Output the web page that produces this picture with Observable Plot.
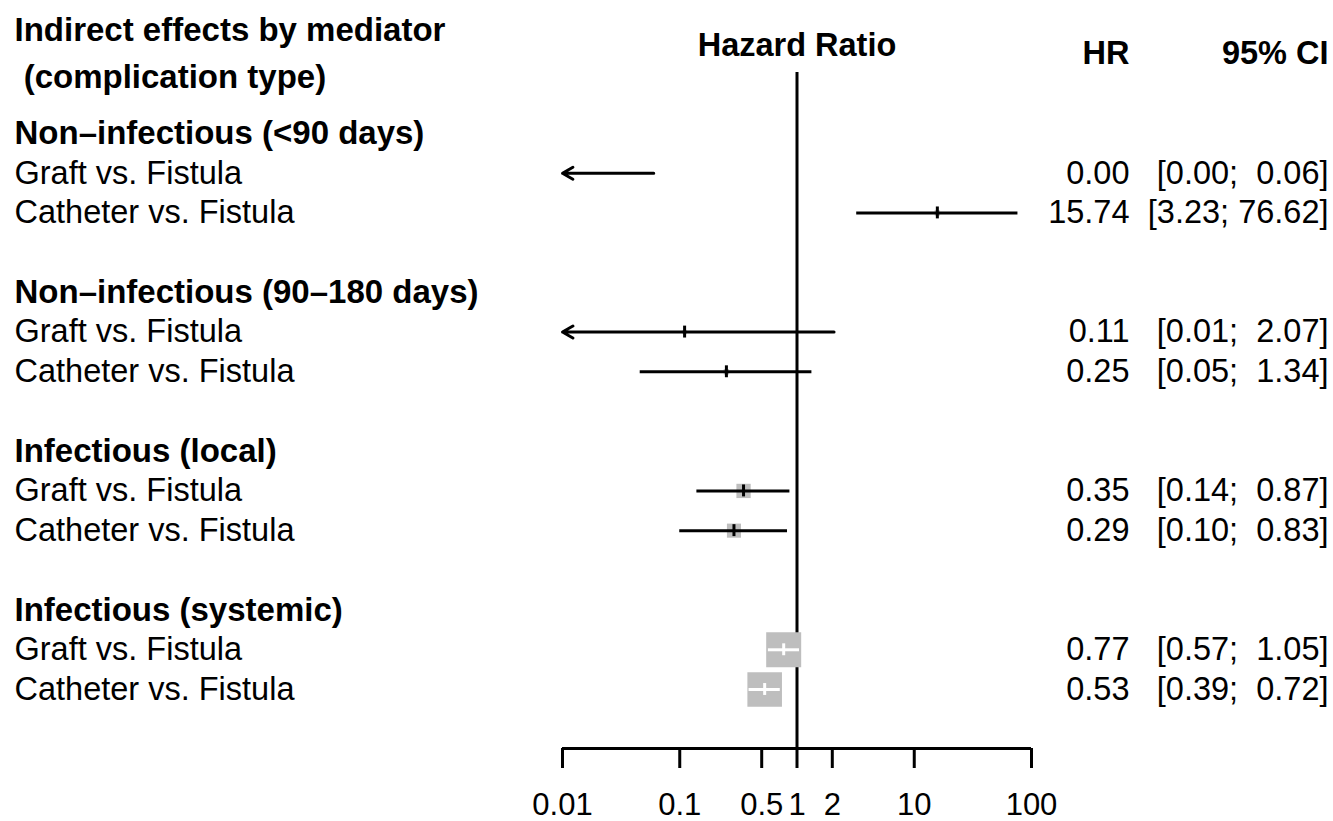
<!DOCTYPE html>
<html>
<head>
<meta charset="utf-8">
<script src="https://cdn.jsdelivr.net/npm/d3@7"></script>
<script src="https://cdn.jsdelivr.net/npm/@observablehq/plot@0.6"></script>
<style>
  html, body { margin: 0; padding: 0; background: #ffffff; }
  #chart svg { display: block; }
</style>
</head>
<body>
<div id="chart"></div>
<script>
// ---- data ----
const groups = ["Non\u2013infectious (<90 days)", "Non\u2013infectious (90\u2013180 days)", "Infectious (local)", "Infectious (systemic)"];
const comparisons = ["Graft vs. Fistula", "Catheter vs. Fistula"];
const hr     = [0.002, 15.74, 0.11, 0.25, 0.35, 0.29, 0.77, 0.53];
const lower  = [0.0001, 3.23, 0.006, 0.046, 0.14, 0.10, 0.57, 0.39];
const upper  = [0.06, 76.62, 2.07, 1.34, 0.87, 0.83, 1.05, 0.72];
const weight = [0, 1.0, 0.6, 1.0, 7.0, 6.8, 42, 41];
const tickValues = [0.01, 0.1, 0.5, 1, 2, 10, 100];
const tickLabels = ["0.01", "0.1", "0.5", "1", "2", "10", "100"];
const titleLines = ["Indirect effects by mediator", "\u00a0(complication type)"];
const axisTitle = "Hazard Ratio";
const colHeaders = ["HR", "95% CI"];

// ---- scales ----
const xOpts = {type: "log", domain: [0.01, 100], range: [562, 1031]};
const yOpts = {domain: [0, 14], range: [133, 689], axis: null};
const rOpts = {type: "sqrt", domain: [0, 42], range: [0, 35 / Math.sqrt(Math.PI)]};
const W = 1333, H = 821, MT = 72, MB = 73;
const xs = Plot.scale({x: {type: "log", domain: xOpts.domain, range: xOpts.range}});
const ys = Plot.scale({y: {domain: yOpts.domain, range: yOpts.range}});
const rs = Plot.scale({r: rOpts});
const axisRow = ys.invert(H - MB);

const headers = groups.map((g, k) => ({label: g, i: 4 * k}));
const rows = hr.map((v, k) => {
  const lo = lower[k], up = upper[k], w = weight[k];
  const side = rs.apply(w) * Math.sqrt(Math.PI);
  const ciPx = xs.apply(Math.min(up, 100)) - xs.apply(Math.max(lo, 0.01));
  const padUp = up < 10 ? "\u00a0" + up.toFixed(2) : up.toFixed(2);
  return {
    label: comparisons[k % 2],
    i: 4 * Math.floor(k / 2) + 1 + (k % 2),
    hr: v, lo, up, w,
    inside: w > 0 && ciPx < side,
    hrText: v.toFixed(2),
    ciText: `[${lo.toFixed(2)}; ${padUp}]`
  };
});
const inDomain = rows.filter(d => d.hr >= 0.01 && d.hr <= 100);
const lineRows = rows.filter(d => d.lo >= 0.01);
const arrowRows = rows.filter(d => d.lo < 0.01);
const tickData = tickValues.map((v, k) => ({v, label: tickLabels[k]}));

const FONT = "Liberation Sans, Arial, Helvetica, sans-serif";
const LW = 3;

const plot = Plot.plot({
  width: W, height: H,
  marginTop: MT, marginBottom: MB, marginLeft: 0, marginRight: 0,
  x: xOpts, y: yOpts, r: rOpts,
  style: {fontFamily: FONT, background: "#ffffff", color: "#000000"},
  marks: [
    // reference line at HR = 1
    Plot.ruleX([1], {stroke: "#000", strokeWidth: LW}),
    // weight boxes
    Plot.dot(inDomain.filter(d => d.w > 0), {x: "hr", y: "i", r: "w", symbol: "square", fill: "#bebebe", stroke: null}),
    // confidence intervals
    Plot.ruleY(lineRows, {y: "i", x1: d => d.lo, x2: d => Math.min(d.up, 100), stroke: d => d.inside ? "#ffffff" : "#000000", strokeWidth: LW}),
    Plot.arrow(arrowRows, {y1: "i", y2: "i", x1: d => Math.min(d.up, 100), x2: () => 0.01, stroke: "#000", strokeWidth: LW, headLength: 6, headAngle: 60}),
    // point estimates
    Plot.ruleX(inDomain, {x: "hr", y1: d => d.i - 0.15, y2: d => d.i + 0.15, stroke: d => d.inside ? "#ffffff" : "#000000", strokeWidth: 3}),
    // x axis
    Plot.ruleY([axisRow], {x1: 0.01, x2: 100, stroke: "#000", strokeWidth: LW}),
    Plot.axisX({anchor: "bottom", ticks: tickValues, tickSize: 20, text: null, strokeWidth: LW, label: null}),
    Plot.text(tickData, {x: "v", text: "label", frameAnchor: "bottom", dy: 57, fontSize: 31, textAnchor: "middle", lineAnchor: "middle", fill: "#000"}),
    // titles
    Plot.text([titleLines[0]], {text: d => d, frameAnchor: "top-left", dx: 14, dy: 30 - MT, fontWeight: "bold", fontSize: 33, textAnchor: "start", lineAnchor: "middle", fill: "#000"}),
    Plot.text([titleLines[1]], {text: d => d, frameAnchor: "top-left", dx: 14, dy: 77 - MT, fontWeight: "bold", fontSize: 33, textAnchor: "start", lineAnchor: "middle", fill: "#000"}),
    Plot.text([axisTitle], {text: d => d, x: 1, frameAnchor: "top", dy: 45 - MT, fontWeight: "bold", fontSize: 32.5, textAnchor: "middle", lineAnchor: "middle", fill: "#000"}),
    Plot.text([colHeaders[0]], {text: d => d, frameAnchor: "top-right", dx: 1129 - W, dy: 53 - MT, fontWeight: "bold", fontSize: 32.5, textAnchor: "end", lineAnchor: "middle", fill: "#000"}),
    Plot.text([colHeaders[1]], {text: d => d, frameAnchor: "top-right", dx: -5, dy: 53 - MT, fontWeight: "bold", fontSize: 32.5, textAnchor: "end", lineAnchor: "middle", fill: "#000"}),
    // group headers and row labels
    Plot.text(headers, {y: "i", text: "label", frameAnchor: "left", dx: 14, fontWeight: "bold", fontSize: 33, textAnchor: "start", lineAnchor: "middle", fill: "#000"}),
    Plot.text(rows, {y: "i", text: "label", frameAnchor: "left", dx: 14, fontSize: 32.5, textAnchor: "start", lineAnchor: "middle", fill: "#000"}),
    // HR and CI columns
    Plot.text(rows, {y: "i", text: "hrText", frameAnchor: "right", dx: 1129 - W, fontSize: 32.5, textAnchor: "end", lineAnchor: "middle", fill: "#000"}),
    Plot.text(rows, {y: "i", text: "ciText", frameAnchor: "right", dx: -5, fontSize: 32.5, textAnchor: "end", lineAnchor: "middle", fill: "#000"})
  ]
});
document.getElementById("chart").appendChild(plot);
</script>
</body>
</html>
